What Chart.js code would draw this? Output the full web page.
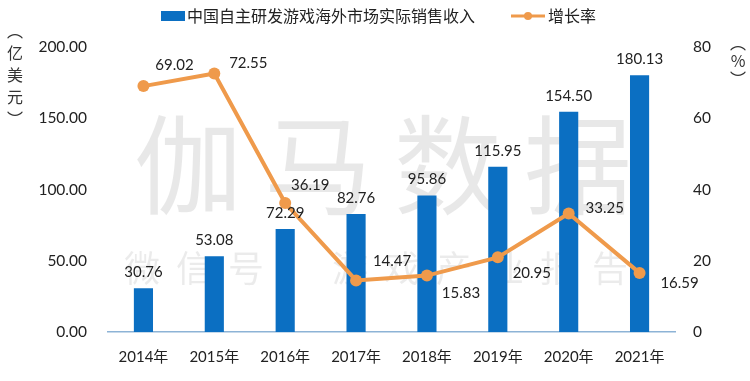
<!DOCTYPE html>
<html><head><meta charset="utf-8">
<script src="https://cdn.jsdelivr.net/npm/chart.js@4"></script>
<style>html,body{margin:0;padding:0;background:#fff}#wrap{width:750px;height:381px;position:relative}</style>
</head><body><div id="wrap"><canvas id="c"></canvas></div>
<script>
const categories = ['2014年','2015年','2016年','2017年','2018年','2019年','2020年','2021年'];
const revenue = [30.76, 53.08, 72.29, 82.76, 95.86, 115.95, 154.50, 180.13];
const growth = [69.02, 72.55, 36.19, 14.47, 15.83, 20.95, 33.25, 16.59];
const seriesNames = ['中国自主研发游戏海外市场实际销售收入', '增长率'];
const leftAxisTitle = ['︵','亿','美','元','︶'];
const rightAxisTitle = ['︵','%','︶'];
const watermarkBig = '伽马数据';
const watermarkSmall = '微信号：游戏产业报告';

const BLUE = '#0B6FC2', ORANGE = '#EF9A4B';
const NUM_FONT = '15px Lato, "Noto Sans", sans-serif';
const CJK = '"Noto Sans CJK SC", sans-serif';
// label offsets (dx, dy) relative to the line points
const lineLabelOffsets = [[31,-21],[34,-10],[25,-18],[36,-19],[34,18],[34,16],[36,-5],[40,10]];

const decor = {
  id: 'decor',
  beforeDatasetsDraw(chart) {
    const ctx = chart.ctx;
    ctx.save();
    ctx.fillStyle = 'rgba(0,0,0,0.09)';
    ctx.textAlign = 'center'; ctx.textBaseline = 'middle';
    ctx.font = '108px ' + CJK;
    [...watermarkBig].forEach((ch, i) => ctx.fillText(ch, 188 + i * 130, 165));
    ctx.fillStyle = 'rgba(0,0,0,0.08)';
    ctx.font = '36px ' + CJK;
    [...watermarkSmall].forEach((ch, i) => ctx.fillText(ch, 142 + i * 52, 268));
    ctx.restore();
  },
  afterDatasetsDraw(chart) {
    const ctx = chart.ctx;
    ctx.save();
    ctx.font = NUM_FONT;
    ctx.fillStyle = '#222';
    ctx.textAlign = 'center'; ctx.textBaseline = 'middle';
    chart.getDatasetMeta(1).data.forEach((el, i) => {
      ctx.fillText(revenue[i].toFixed(2), el.x, el.y - 16);
    });
    chart.getDatasetMeta(0).data.forEach((el, i) => {
      const o = lineLabelOffsets[i];
      ctx.fillText(growth[i].toFixed(2), el.x + o[0], el.y + o[1]);
    });
    // axis titles
    ctx.font = '16px ' + CJK;
    ctx.fillStyle = '#333';
    leftAxisTitle.forEach((ch, i) => ctx.fillText(ch, 15, 31 + i * 22));
    rightAxisTitle.forEach((ch, i) => ctx.fillText(ch, 738, 43 + i * 18));
    // legend
    ctx.fillStyle = BLUE;
    ctx.fillRect(161, 11, 24, 10);
    ctx.fillStyle = '#222';
    ctx.textAlign = 'left';
    ctx.font = '16px ' + CJK;
    ctx.fillText(seriesNames[0], 187, 16);
    ctx.strokeStyle = ORANGE; ctx.lineWidth = 3;
    ctx.beginPath(); ctx.moveTo(511, 16); ctx.lineTo(545, 16); ctx.stroke();
    ctx.fillStyle = ORANGE;
    ctx.beginPath(); ctx.arc(528, 16, 4, 0, Math.PI * 2); ctx.fill();
    ctx.fillStyle = '#222';
    ctx.fillText(seriesNames[1], 548, 16);
    ctx.restore();
  }
};

new Chart(document.getElementById('c'), {
  data: {
    labels: categories,
    datasets: [
      { type: 'line', label: seriesNames[1], data: growth, yAxisID: 'y2',
        borderColor: ORANGE, backgroundColor: ORANGE, borderWidth: 4,
        pointRadius: 6, pointHoverRadius: 6, pointBackgroundColor: ORANGE, pointBorderWidth: 0,
        tension: 0, order: 0 },
      { type: 'bar', label: seriesNames[0], data: revenue, yAxisID: 'y',
        backgroundColor: BLUE, barPercentage: 0.27, categoryPercentage: 1, order: 1 }
    ]
  },
  options: {
    responsive: true, maintainAspectRatio: false, animation: false,
    layout: { padding: { top: 47, left: 0, right: 0, bottom: 0 } },
    plugins: { legend: { display: false }, tooltip: { enabled: false } },
    scales: {
      x: {
        grid: { display: false, drawTicks: false },
        border: { display: true, color: '#8DB3D6', width: 1.5 },
        ticks: { color: '#222', font: { family: 'Lato, "Noto Sans CJK SC", sans-serif', size: 15 }, padding: 16 },
        afterFit(s) { s.height = 49; }
      },
      y: {
        position: 'left', min: 0, max: 200,
        grid: { display: false, drawTicks: false }, border: { display: false },
        ticks: { stepSize: 50, color: '#222', font: { family: 'Lato, "Noto Sans", sans-serif', size: 15.5 }, padding: 21,
          callback: v => v.toFixed(2) },
        afterFit(s) { s.width = 108; }
      },
      y2: {
        position: 'right', min: 0, max: 80,
        grid: { display: false, drawTicks: false }, border: { display: false },
        ticks: { stepSize: 20, color: '#222', font: { family: 'Lato, "Noto Sans", sans-serif', size: 15.5 }, padding: 18 },
        afterFit(s) { s.width = 75; }
      }
    }
  },
  plugins: [decor]
});
</script>
</body></html>
